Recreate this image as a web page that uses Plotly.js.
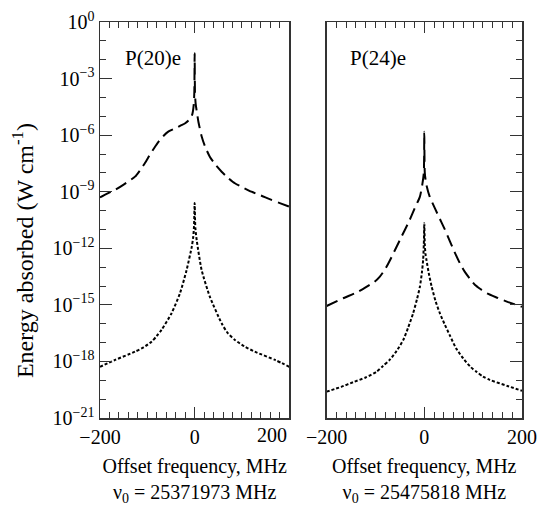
<!DOCTYPE html>
<html>
<head>
<meta charset="utf-8">
<script src="https://cdn.plot.ly/plotly-3.0.1.min.js"></script>
<style>
html,body{margin:0;padding:0;background:#fff;}
#chart{width:540px;height:506px;}
#chart svg text{font-family:"Liberation Serif","DejaVu Serif","Times New Roman",Times,serif !important;}
</style>
</head>
<body>
<div id="chart"></div>
<script>
// ---- Data ----
// P(20)e panel, dashed curve
const p20DashedX = [-200,-185,-168,-150,-126,-115,-105,-95,-84,-75,-66,-55,-41,-30,-20,-10,-5,-2,-0.7,0,0.7,2,4,8,15,22,32,45,57,70,85,100,120,140,163,180,200];
const p20DashedY = [5.0e-10,7.9e-10,1.26e-9,2.4e-9,6.3e-9,1.41e-8,3.3e-8,8.9e-8,2.34e-7,5.0e-7,9.1e-7,1.58e-6,2.29e-6,3.16e-6,4.27e-6,7.1e-6,1.26e-5,3.98e-5,2.0e-4,2.19e-2,1.58e-4,5.0e-5,2.14e-5,5.0e-6,8.3e-7,2.5e-7,7.2e-8,2.5e-8,1.15e-8,5.6e-9,2.8e-9,1.78e-9,1.0e-9,6.3e-10,3.6e-10,2.5e-10,1.62e-10];
// P(20)e panel, dotted curve
const p20DottedX = [-200,-168,-126,-108,-91,-80,-70,-49,-31,-17,-6,-3,-1.4,0,1.4,4.3,14.7,32,57,70,85,105,127,170,200];
const p20DottedY = [5.2e-19,1.2e-18,3.3e-18,5.6e-18,1.12e-17,2.24e-17,4.7e-17,3.5e-16,4.1e-15,7.1e-14,1.23e-12,4.0e-12,1.41e-11,2.5e-10,1.26e-11,2.75e-12,7.1e-14,2.75e-15,1.05e-16,3.16e-17,1.38e-17,6.3e-18,3.3e-18,1.2e-18,5.2e-19];
// P(24)e panel, dashed curve
const p24DashedX = [-200,-166,-135,-112,-102,-91,-80,-70,-50,-30,-20,-9,-4,-1,0,1,4,11,22,32,42,52,62,73,83,93,104,114,128,150,169,200];
const p24DashedY = [8.7e-16,2.24e-15,5.0e-15,1.15e-14,1.66e-14,3.16e-14,7.9e-14,2.4e-13,2.75e-12,3.16e-11,1.26e-10,5.5e-10,2.5e-9,1.0e-8,1.51e-6,1.0e-8,2.5e-9,5.5e-10,1.26e-10,3.55e-11,1.0e-11,2.5e-12,6.3e-13,1.58e-13,5.6e-14,2.5e-14,1.12e-14,7.1e-15,4.1e-15,2.34e-15,1.48e-15,7.9e-16];
// P(24)e panel, dotted curve
const p24DottedX = [-200,-170,-146,-120,-98,-85,-71,-57,-43,-33,-23,-15,-9,-5,-2.4,-1,0,1,2.4,4.4,9,15,23,32,42,52,65,80,95,107,120,134,170,200];
const p24DottedY = [2.5e-20,4.5e-20,7.9e-20,1.41e-19,2.8e-19,5.6e-19,1.2e-18,3.5e-18,1.38e-17,6.3e-17,3.5e-16,2.0e-15,9.3e-15,5.0e-14,2.4e-13,1.58e-12,2.1e-11,1.58e-12,5.0e-13,2.4e-13,5.0e-14,9.3e-15,1.58e-15,3.5e-16,8.9e-17,2.5e-17,5.0e-18,1.41e-18,5.0e-19,2.8e-19,1.58e-19,1.05e-19,5.0e-20,2.8e-20];

// Tick values and labels
const yTickVals = [1,1e-3,1e-6,1e-9,1e-12,1e-15,1e-18,1e-21];
const yTickText = ["10<sup>0</sup>","10<sup>−3</sup>","10<sup>−6</sup>","10<sup>−9</sup>","10<sup>−12</sup>","10<sup>−15</sup>","10<sup>−18</sup>","10<sup>−21</sup>"];
const yMinorVals = [1e-1,1e-2,1e-4,1e-5,1e-7,1e-8,1e-10,1e-11,1e-13,1e-14,1e-16,1e-17,1e-19,1e-20];
const xTickVals = [-200,0,200];
const xTickTextLeft = ["−200","0",""];
const xTickTextRight = ["−200","0","200"];
const panelLabels = ["P(20)e","P(24)e"];
const xTitles = ["Offset frequency, MHz<br>ν<sub>0</sub> = 25371973 MHz","Offset frequency, MHz<br>ν<sub>0</sub> = 25475818 MHz"];
const yTitle = "Energy absorbed (W cm<sup>-1</sup>)";

const FONT = "Liberation Serif";
const AX = "#333";

function lineStyle(kind){
  return kind === "dash"
    ? {color:"#000", width:2, dash:"12px,6px", shape:"spline", smoothing:0.6}
    : {color:"#000", width:2, dash:"3px,2px", shape:"spline", smoothing:0.6};
}

const data = [
  {type:"scatter", x:p20DashedX, y:p20DashedY, mode:"lines", line:lineStyle("dash"), xaxis:"x", yaxis:"y", hoverinfo:"skip"},
  {type:"scatter", x:p20DottedX, y:p20DottedY, mode:"lines", line:lineStyle("dot"), xaxis:"x", yaxis:"y", hoverinfo:"skip"},
  {type:"scatter", x:p24DashedX, y:p24DashedY, mode:"lines", line:lineStyle("dash"), xaxis:"x2", yaxis:"y2", hoverinfo:"skip"},
  {type:"scatter", x:p24DottedX, y:p24DottedY, mode:"lines", line:lineStyle("dot"), xaxis:"x2", yaxis:"y2", hoverinfo:"skip"}
];

function xAxis(domain, anchor, ticktext, title){
  return {
    domain: domain, anchor: anchor, range:[-200,200],
    tickmode:"array", tickvals:xTickVals, ticktext:ticktext,
    ticks:"inside", ticklen:11, tickwidth:1, tickcolor:AX,
    minor:{tickmode:"linear", tick0:0, dtick:20, ticks:"inside", ticklen:6, tickwidth:1, tickcolor:AX},
    showline:true, linecolor:AX, linewidth:1.5, mirror:"ticks",
    showgrid:false, zeroline:false,
    tickfont:{family:FONT, size:20, color:"#000"},
    title:{text:title, font:{family:FONT, size:20, color:"#000"}},
    fixedrange:true
  };
}
function yAxis(anchor, side, showLabels){
  return {
    anchor: anchor, side: side, type:"log", range:[-21,0],
    tickmode:"array", tickvals:yTickVals, ticktext:yTickText, showticklabels:showLabels,
    ticks:"inside", ticklen:12, tickwidth:1, tickcolor:AX,
    minor:{tickmode:"array", tickvals:yMinorVals, ticks:"inside", ticklen:6, tickwidth:1, tickcolor:AX},
    showline:true, linecolor:AX, linewidth:1.5, mirror:true,
    showgrid:false, zeroline:false,
    tickfont:{family:FONT, size:20, color:"#000"},
    fixedrange:true
  };
}

const layout = {
  width:540, height:506,
  margin:{l:100, r:18, t:22, b:88},
  paper_bgcolor:"#fff", plot_bgcolor:"#fff",
  showlegend:false,
  font:{family:FONT, color:"#000", size:20},
  xaxis: xAxis([0,0.4486], "y", xTickTextLeft, xTitles[0]),
  yaxis: yAxis("x", "left", true),
  xaxis2: xAxis([0.537,1], "y2", xTickTextRight, xTitles[1]),
  yaxis2: yAxis("x2", "right", false),
  annotations:[
    {text:panelLabels[0], xref:"x", yref:"paper", x:-152, y:0.945, xanchor:"left", yanchor:"top", showarrow:false, font:{family:FONT, size:21, color:"#000"}},
    {text:panelLabels[1], xref:"x2", yref:"paper", x:-157, y:0.945, xanchor:"left", yanchor:"top", showarrow:false, font:{family:FONT, size:21, color:"#000"}},
    {text:"200", xref:"x", yref:"paper", x:200, y:-0.01, xanchor:"right", yanchor:"top", showarrow:false, font:{family:FONT, size:20, color:"#000"}},
    {text:yTitle, xref:"paper", yref:"paper", x:-0.1825, y:0.424, xanchor:"center", yanchor:"middle", textangle:-90, showarrow:false, font:{family:FONT, size:24, color:"#000"}}
  ]
};

Plotly.newPlot("chart", data, layout, {staticPlot:true, displayModeBar:false});
</script>
</body>
</html>
